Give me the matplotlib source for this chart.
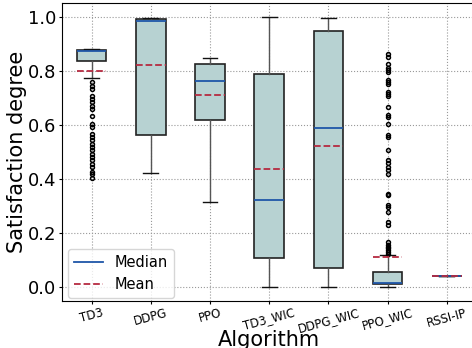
import matplotlib
matplotlib.use("Agg")
import matplotlib.pyplot as plt
from matplotlib.lines import Line2D

# box statistics
algorithms = ["TD3", "DDPG", "PPO", "TD3_WIC", "DDPG_WIC", "PPO_WIC", "RSSI-IP"]
medians = [0.871, 0.985, 0.760, 0.322, 0.588, 0.016, 0.041]
q1 = [0.834, 0.561, 0.619, 0.106, 0.071, 0.013, 0.041]
q3 = [0.877, 0.992, 0.824, 0.789, 0.947, 0.055, 0.041]
whis_low = [0.774, 0.423, 0.315, 0.0, 0.0, 0.0, 0.041]
whis_high = [0.879, 0.995, 0.845, 1.0, 0.995, 0.119, 0.041]
means = [0.800, 0.822, 0.711, 0.435, 0.521, 0.112, 0.041]

fliers_td3 = [0.757, 0.745, 0.732, 0.708, 0.696, 0.683, 0.671, 0.659, 0.634,
              0.604, 0.591, 0.567, 0.555, 0.542, 0.530, 0.518, 0.505, 0.493,
              0.481, 0.469, 0.456, 0.444, 0.426, 0.420, 0.403]
fliers_ppo_wic = [0.862, 0.850, 0.826, 0.808, 0.801, 0.795, 0.764, 0.758,
                  0.752, 0.721, 0.715, 0.708, 0.665, 0.635, 0.629, 0.604,
                  0.561, 0.555, 0.506, 0.469, 0.457, 0.444, 0.432, 0.420,
                  0.346, 0.339, 0.303, 0.296, 0.278, 0.241, 0.229, 0.167,
                  0.155, 0.149, 0.143, 0.137, 0.130, 0.124]
fliers = [fliers_td3, [], [], [], [], fliers_ppo_wic, []]

stats = []
for i in range(len(algorithms)):
    stats.append({
        "label": algorithms[i],
        "med": medians[i],
        "q1": q1[i],
        "q3": q3[i],
        "whislo": whis_low[i],
        "whishi": whis_high[i],
        "mean": means[i],
        "fliers": fliers[i],
    })

median_color = "#1f56a8"
mean_color = "#b52a40"

fig = plt.figure(figsize=(4.72, 3.48), dpi=100)
ax = fig.add_axes([62 / 472, 47.3 / 348, 414.4 / 472, 297.7 / 348])

ax.bxp(stats, showmeans=True, meanline=True, patch_artist=True,
       boxprops=dict(facecolor="#b7d2d2", edgecolor="#222222", linewidth=1.2),
       medianprops=dict(color=median_color, linewidth=1.3),
       meanprops=dict(color=mean_color, linestyle="--", linewidth=1.3),
       whiskerprops=dict(color="#555555", linewidth=1.0),
       capprops=dict(color="#111111", linewidth=1.0),
       flierprops=dict(marker="o", markersize=2.8, markerfacecolor="none",
                       markeredgecolor="black", markeredgewidth=1.1))

ax.set_xlim(0.5, 7.5)
ax.set_ylim(-0.05, 1.05)
ax.set_axisbelow(True)
ax.grid(True, linestyle=":", color="#999999", linewidth=0.8)
ax.set_yticks([0.0, 0.2, 0.4, 0.6, 0.8, 1.0])
ax.tick_params(axis="y", labelsize=13, length=2.5, pad=1.5)
ax.tick_params(axis="x", labelsize=8.5, length=2.5, pad=1.5)
plt.setp(ax.get_xticklabels(), rotation=15)

ax.set_ylabel("Satisfaction degree", fontsize=15)
ax.yaxis.set_label_coords(-0.085, 0.5)
ax.set_xlabel("Algorithm", fontsize=15)
ax.xaxis.set_label_coords(0.5, -0.1)

handles = [Line2D([], [], color=median_color, linewidth=1.3),
           Line2D([], [], color=mean_color, linestyle="--", linewidth=1.3)]
ax.legend(handles, ["Median", "Mean"], loc="lower left", fontsize=10.5,
          bbox_to_anchor=(0.0145, 0.009), borderaxespad=0)

fig.savefig("out.png", dpi=100)
